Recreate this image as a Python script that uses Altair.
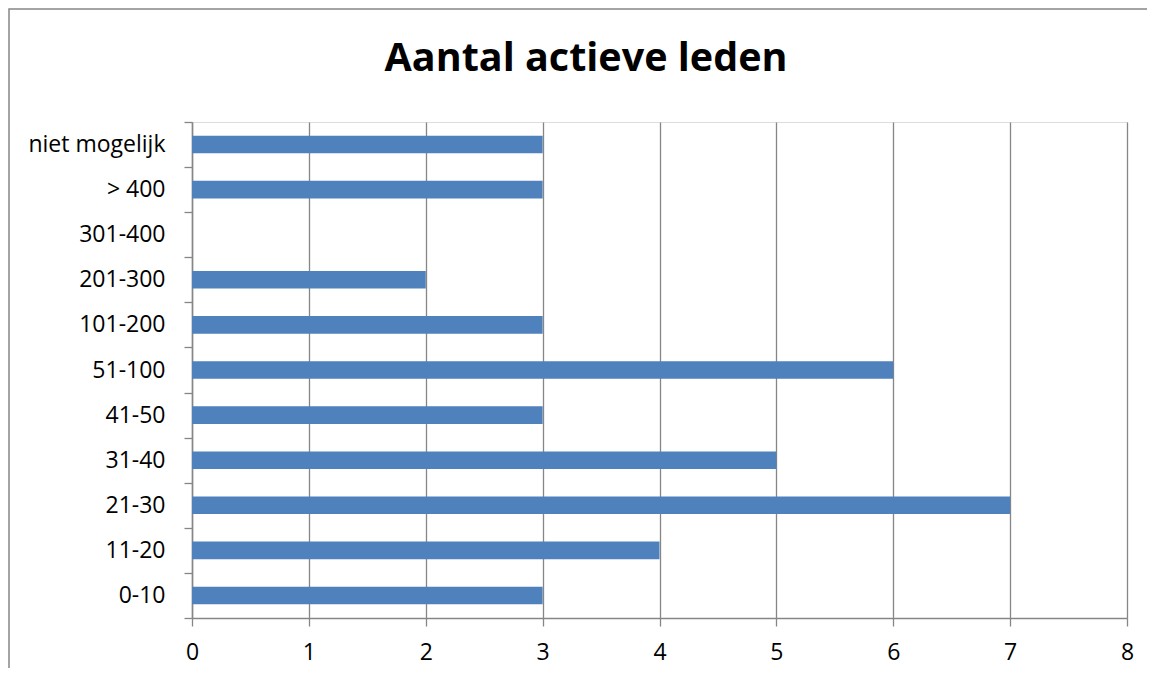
import altair as alt
import pandas as pd

categories = ["0-10", "11-20", "21-30", "31-40", "41-50", "51-100",
              "101-200", "201-300", "301-400", "> 400", "niet mogelijk"]
values = [3, 4, 7, 5, 3, 6, 3, 2, 0, 3, 3]
title_text = "Aantal actieve leden"

df = pd.DataFrame({"cat": categories, "n": values})
order = list(reversed(categories))

GRAY = "#868686"
FONT = "Open Sans"

W, H = 935, 496

bars = alt.Chart(df).mark_bar(color="#4F81BD", size=17.6).encode(
    x=alt.X("n:Q", scale=alt.Scale(domain=[0, 8], nice=False),
            axis=alt.Axis(title=None, values=list(range(9)), format="d",
                          grid=True, gridColor=GRAY, gridOpacity=1, gridWidth=1.3,
                          domainColor=GRAY, domainWidth=1.5,
                          tickColor=GRAY, tickSize=8, tickWidth=1.3,
                          labelFont=FONT, labelFontSize=23, labelColor="black",
                          labelPadding=15, labelFlush=False)),
    y=alt.Y("cat:N", sort=order,
            scale=alt.Scale(paddingInner=0, paddingOuter=0),
            axis=alt.Axis(title=None, tickBand="extent", grid=False,
                          domainColor=GRAY, domainWidth=1.5,
                          tickColor=GRAY, tickSize=8, tickWidth=1.3,
                          labelFont=FONT, labelFontSize=23, labelColor="black",
                          labelPadding=19)),
)

border = alt.Chart(alt.Data(values=[{"a": 1}])).mark_rect(
    fill=None, stroke=GRAY, strokeWidth=1.5
).encode(
    x=alt.value(-183), x2=alt.value(W + 200),
    y=alt.value(-113), y2=alt.value(H + 200),
)

title = alt.Chart(alt.Data(values=[{"a": 1}])).mark_text(
    font=FONT, fontSize=39.5, fontWeight="bold", color="black",
    align="center", baseline="alphabetic"
).encode(
    x=alt.value(394), y=alt.value(-51), text=alt.value(title_text),
)

chart = alt.layer(bars, border, title).properties(
    width=W, height=H,
    autosize=alt.AutoSizeParams(type="none"),
    padding={"left": 184, "top": 114, "right": 20, "bottom": 50},
).configure_view(stroke=None).configure(background="white")

chart.save("out.html", embed_options={"renderer": "svg", "actions": False})
